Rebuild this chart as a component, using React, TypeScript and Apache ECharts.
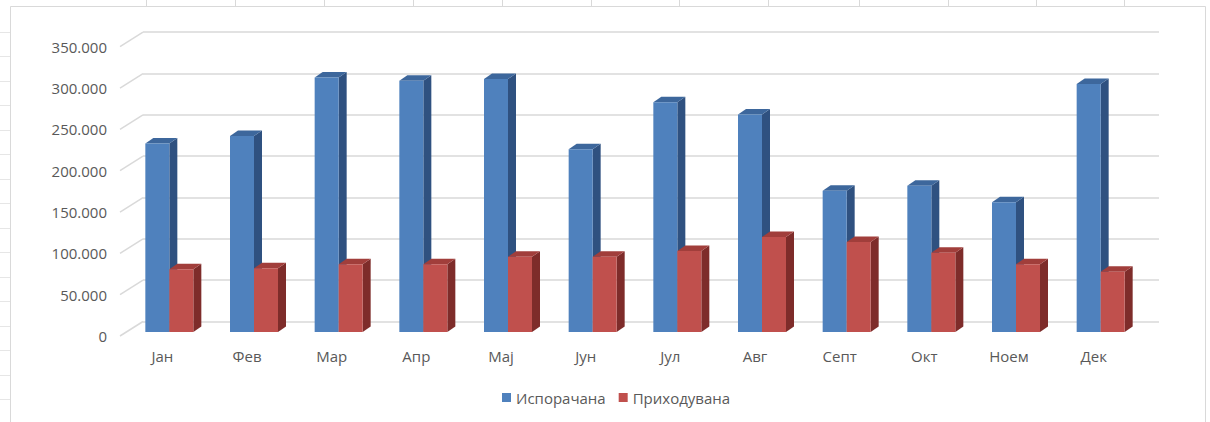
import React, { useEffect, useRef } from "react";
import * as echarts from "echarts";

const months = ["Јан", "Фев", "Мар", "Апр", "Мај", "Јун", "Јул", "Авг", "Септ", "Окт", "Ноем", "Дек"];
const delivered = [228000, 237000, 308000, 304000, 306000, 221000, 278000, 263000, 171000, 177000, 157000, 300000];
const received = [76000, 77000, 82000, 82000, 91000, 91000, 98000, 115000, 109000, 96000, 82000, 73000];
const seriesNames = ["Испорачана", "Приходувана"];
const yTicks = [0, 50000, 100000, 150000, 200000, 250000, 300000, 350000];

const FRONT = ["#4f81bd", "#c0504d"];
const TOPC = ["#3d679c", "#a13e3b"];
const SIDE = ["#2f5180", "#7e2c2a"];
const TEXT = "#595959";
const FONT = "'Open Sans', sans-serif";
const GRIDC = "#d9d9d9";

const WALL_DX = 23;
const WALL_DY = -14.5;
const BAR_DX = 7;
const BAR_DY = -4;
const BAR_W = 24;
const DEPTH_DX = 8;
const DEPTH_DY = -5.5;

const fmt = (v: number) => String(Math.round(v)).replace(/\B(?=(\d{3})+(?!\d))/g, ".");

function barSeries(s: number, values: number[]) {
  return {
    type: "custom",
    name: seriesNames[s],
    xAxisIndex: 0,
    yAxisIndex: 0,
    itemStyle: { color: FRONT[s] },
    encode: { x: 0, y: 1 },
    data: values.map((v, i) => [i, v]),
    z: 5 + s,
    renderItem: (params: any, api: any) => {
      const idx = api.value(0);
      const val = api.value(1);
      const base = api.coord([idx, 0]);
      const top = api.coord([idx, val]);
      const x0 = base[0] + BAR_DX - BAR_W + s * BAR_W;
      const yb = base[1] + BAR_DY;
      const yt = top[1] + BAR_DY;
      const x1 = x0 + BAR_W;
      return {
        type: "group",
        children: [
          {
            type: "polygon",
            shape: { points: [[x1, yt], [x1 + DEPTH_DX, yt + DEPTH_DY], [x1 + DEPTH_DX, yb + DEPTH_DY], [x1, yb]] },
            style: { fill: SIDE[s] },
          },
          {
            type: "polygon",
            shape: { points: [[x0, yt], [x0 + DEPTH_DX, yt + DEPTH_DY], [x1 + DEPTH_DX, yt + DEPTH_DY], [x1, yt]] },
            style: { fill: TOPC[s] },
          },
          {
            type: "rect",
            shape: { x: x0, y: yt, width: BAR_W, height: yb - yt },
            style: { fill: FRONT[s] },
          },
        ],
      };
    },
  };
}

export default function App() {
  const ref = useRef<HTMLDivElement>(null);
  useEffect(() => {
    if (!ref.current) return;
    const chart = echarts.init(ref.current, undefined, { renderer: "svg" });

    const topCols = [146, 235, 324, 413, 502, 591, 679, 768, 859, 948, 1036, 1124];
    const leftRows: number[] = [];
    for (let y = 31.5; y < 422; y += 24.5) leftRows.push(y);

    const graphics: any[] = [
      {
        type: "rect",
        shape: { x: 10.5, y: 6.5, width: 1195, height: 430 },
        style: { fill: "none", stroke: GRIDC, lineWidth: 1 },
        silent: true,
        z: -10,
      },
      ...topCols.map((x) => ({
        type: "line",
        shape: { x1: x + 0.5, y1: 0, x2: x + 0.5, y2: 6 },
        style: { stroke: GRIDC, lineWidth: 1 },
        silent: true,
      })),
      ...leftRows.map((y) => ({
        type: "line",
        shape: { x1: 0, y1: Math.round(y) + 0.5, x2: 10, y2: Math.round(y) + 0.5 },
        style: { stroke: "#e6e6e6", lineWidth: 1 },
        silent: true,
      })),
    ];

    const option: any = {
      animation: false,
      backgroundColor: "#ffffff",
      textStyle: { fontFamily: FONT },
      graphic: graphics,
      legend: {
        data: seriesNames.map((n) => ({ name: n, icon: "rect" })),
        top: 385,
        left: 497,
        itemWidth: 9,
        itemHeight: 9,
        itemGap: 13,
        textStyle: { color: TEXT, fontSize: 15, fontFamily: FONT },
      },
      grid: [
        { left: 120, right: 74, top: 46.7, bottom: 86 },
        { left: 120 + WALL_DX, right: 74 - WALL_DX, top: 46.7 + WALL_DY, bottom: 86 - WALL_DY },
      ],
      xAxis: [
        {
          type: "category",
          gridIndex: 0,
          data: months,
          boundaryGap: true,
          axisLine: { show: false },
          axisTick: { show: false },
          axisLabel: { color: TEXT, fontSize: 15, fontFamily: FONT, margin: 12 },
        },
        {
          type: "category",
          gridIndex: 1,
          data: months,
          show: false,
        },
      ],
      yAxis: [
        {
          type: "value",
          gridIndex: 0,
          min: 0,
          max: 350000,
          interval: 50000,
          axisLine: { show: false },
          axisTick: { show: false },
          splitLine: { show: false },
          axisLabel: { color: TEXT, fontSize: 15, fontFamily: FONT, margin: 13, formatter: (v: number) => fmt(v) },
        },
        {
          type: "value",
          gridIndex: 1,
          min: 0,
          max: 350000,
          interval: 50000,
          axisLine: { show: false },
          axisTick: { show: false },
          axisLabel: { show: false },
          splitLine: { show: true, lineStyle: { color: GRIDC, width: 1.5 } },
        },
      ],
      series: [
        {
          type: "custom",
          name: "wall",
          xAxisIndex: 0,
          yAxisIndex: 0,
          silent: true,
          z: 1,
          encode: { x: 0, y: 1 },
          data: yTicks.map((v) => [0, v]),
          renderItem: (params: any, api: any) => {
            const p = api.coord([0, api.value(1)]);
            const x = params.coordSys.x;
            return {
              type: "line",
              shape: { x1: x, y1: p[1], x2: x + WALL_DX, y2: p[1] + WALL_DY },
              style: { stroke: GRIDC, lineWidth: 1.5 },
            };
          },
        },
        barSeries(0, delivered),
        barSeries(1, received),
      ],
    };
    chart.setOption(option);
    return () => chart.dispose();
  }, []);

  return (
    <div
      ref={ref}
      style={{ position: "absolute", left: 0, top: 0, width: 1210, height: 422 }}
    />
  );
}
